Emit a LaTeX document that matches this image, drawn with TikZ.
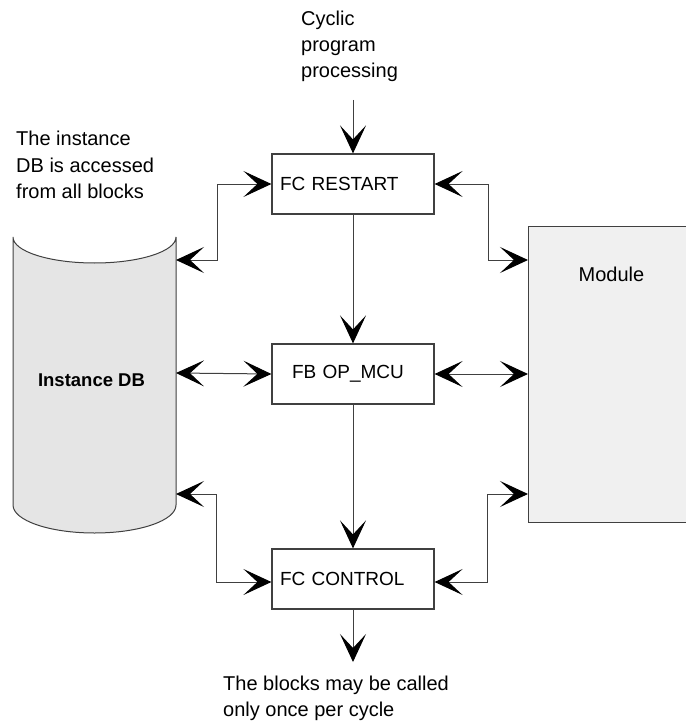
\documentclass[tikz,border=0pt]{standalone}
\usepackage{fontspec}
\setmainfont{Liberation Sans}
\usetikzlibrary{arrows.meta}

\begin{document}
\begin{tikzpicture}[x=1pt,y=-1pt,
  txt/.style={font=\fontsize{20}{26}\selectfont, inner sep=0pt, align=left},
  blockbox/.style={draw=black!75, line width=1.2pt, fill=white,
    minimum width=162pt, minimum height=60pt, inner xsep=8pt, inner ysep=0pt,
    text width=146pt, align=left, font=\fontsize{19}{23}\selectfont},
  link/.style={draw=black!75, line width=1pt,
    -{Stealth[length=28pt,width=26pt,inset=14pt,black]}},
  duplex/.style={draw=black!75, line width=1pt,
    {Stealth[length=28pt,width=26pt,inset=14pt,black]}-{Stealth[length=28pt,width=26pt,inset=14pt,black]}},
]
\useasboundingbox (0,0) rectangle (685,722);

% data block drawn as an upright cylinder
\filldraw[fill=black!10, draw=black!75, line width=1pt]
  (13,237) .. controls (13,251.4) and (49.5,263) .. (94.5,263)
           .. controls (139.5,263) and (176,251.4) .. (176,237)
  -- (176,505) .. controls (176,520.5) and (139.5,533) .. (94.5,533)
               .. controls (49.5,533) and (13,520.5) .. (13,505) -- cycle;
\node[font=\bfseries\fontsize{18.5}{22}\selectfont, inner sep=0pt] (dblabel) at (91.5,380) {Instance DB};
\coordinate (dbA) at (176,260);
\coordinate (dbB) at (176,373);
\coordinate (dbC) at (176,494);

% hardware module
\node[draw=black!75, line width=1pt, fill=black!6, minimum width=170pt,
  minimum height=296pt, anchor=north west, inner sep=0pt] (module) at (528,226) {};
\node[txt] (modlabel) at (611.5,274) {Module};

% program blocks
\node[blockbox] (restart) at (353,184) {FC RESTART};
\node[blockbox] (opmcu) at (353,374) {\hspace*{12pt}FB OP\_MCU};
\node[blockbox] (control) at (353,579) {FC CONTROL};

% captions (base anchor sits on the last line)
\node[txt, anchor=base west] (cyclic) at (301,78) {Cyclic\\program\\processing};
\node[txt, anchor=base west] (note) at (16,198) {The instance\\DB is accessed\\from all blocks};
\node[txt, anchor=base west] (once) at (223,716) {The blocks may be called\\only once per cycle};

% call sequence
\coordinate (start) at (353,100);
\coordinate (finish) at (353,662);
\draw[link] (start) -- (restart.north);
\draw[link] (restart) -- (opmcu);
\draw[link] (opmcu) -- (control);
\draw[link] (control) -- (finish);

% data exchange with the instance DB
\draw[duplex] (dbA) -| ([xshift=-54pt]restart.west) -- (restart.west);
\draw[duplex] (dbB) -- (opmcu.west);
\draw[duplex] (dbC) -| ([xshift=-55pt,yshift=-3pt]control.west) -- ([yshift=-3pt]control.west);

% data exchange with the module
\draw[duplex] (restart.east) -- ++(54,0) |- (module.west |- dbA);
\draw[duplex] (opmcu.east) -- (module.west |- opmcu.east);
\draw[duplex] ([yshift=-3pt]control.east) -- ++(53,0) |- (module.west |- dbC);
\end{tikzpicture}
\end{document}
